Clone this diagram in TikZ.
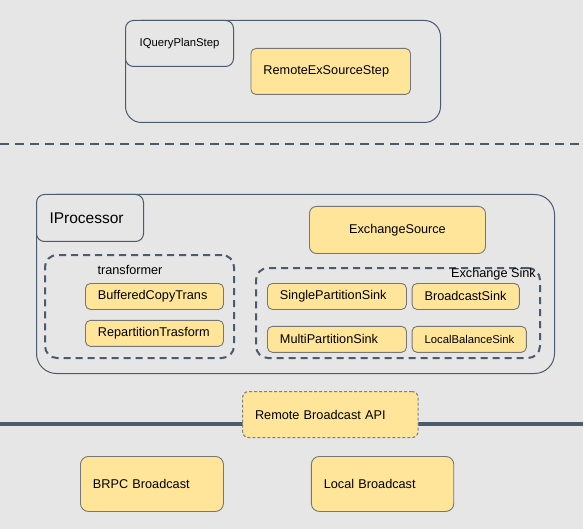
\documentclass[tikz,border=0pt]{standalone}
\usepackage{fontspec}
\setmainfont{Liberation Sans}
\usetikzlibrary{positioning}
\definecolor{bggray}{RGB}{230,230,230}
\definecolor{slateline}{RGB}{76,90,112}
\definecolor{boxyellow}{RGB}{255,229,153}
\definecolor{boxedge}{RGB}{118,118,118}
\newcommand{\mainsize}{\fontsize{12.7}{15}\selectfont}
\newcommand{\smallsize}{\fontsize{11.3}{13}\selectfont}
\newcommand{\largesize}{\fontsize{15.5}{18}\selectfont}

\begin{document}
\begin{tikzpicture}[
    x=1pt, y=-1pt,
    every node/.style={font=\mainsize, inner sep=0pt},
    yellowbox/.style={rectangle, draw=boxedge, fill=boxyellow, line width=0.9pt,
                      rounded corners=5pt, align=left, inner xsep=12.5pt},
    groupbox/.style={rectangle, draw=slateline, line width=1pt, rounded corners=16pt},
    cornerbox/.style={rectangle, draw=slateline, fill=bggray, line width=1pt, rounded corners=8pt},
    dashgroup/.style={rectangle, draw=slateline, line width=2pt, rounded corners=12pt,
                      dash pattern=on 7pt off 5pt},
    apibox/.style={yellowbox, draw=gray, line width=1.1pt, dash pattern=on 3pt off 2pt,
                   rounded corners=6pt}
]
    \fill[bggray] (0,0) rectangle (583,529);
    \useasboundingbox (0,0) rectangle (583,529);

    % Plan step side
    \node[groupbox, anchor=north west, minimum width=315pt, minimum height=102pt] (stepgroup) at (125,20) {};
    \node[cornerbox, anchor=north west, minimum width=108pt, minimum height=46pt, font=\smallsize] (qstep) at (125,20) {IQueryPlanStep};
    \node[yellowbox, anchor=north west, text width=134.5pt, minimum height=46pt] (rstep) at (250.5,48) {RemoteExSourceStep};

    % Separator
    \coordinate (sepL) at (0,144);
    \coordinate (sepR) at (583,144);
    \draw[slateline, line width=2.5pt, dash pattern=on 9pt off 6pt] (sepL) -- (sepR);

    % Processor side
    \node[groupbox, rounded corners=20pt, anchor=north west, minimum width=518pt, minimum height=179pt] (procgroup) at (36,194) {};
    \node[cornerbox, anchor=north west, text width=81pt, inner xsep=13pt, minimum height=47pt, align=left, font=\largesize] (iproc) at (36,194) {IProcessor};
    \node[yellowbox, rounded corners=7pt, anchor=north west, minimum width=176pt, minimum height=47pt, align=center, inner xsep=0pt] (exsrc) at (309,206) {ExchangeSource};

    \node[dashgroup, anchor=north west, minimum width=189pt, minimum height=103pt] (transgroup) at (44,254) {};
    \node (translabel) at (130,270) {transformer};
    \node[yellowbox, anchor=north west, text width=113pt, minimum height=26pt] (bcopy) at (85,283) {BufferedCopyTrans};
    \node[yellowbox, text width=113pt, minimum height=26pt, below=10pt of bcopy] (repart) {RepartitionTrasform};

    \node[dashgroup, anchor=north west, minimum width=284pt, minimum height=90pt] (sinkgroup) at (255,267) {};
    \node[anchor=east] (sinklabel) at (536,274.5) {Exchange Sink};
    \node[yellowbox, anchor=north west, text width=114pt, minimum height=26pt] (single) at (267,283) {SinglePartitionSink};
    \node[yellowbox, text width=82.3pt, minimum height=26pt, right=4.7pt of single] (bcast) {BroadcastSink};
    \node[yellowbox, text width=114pt, minimum height=26pt, below=16pt of single] (multi) {MultiPartitionSink};
    \node[yellowbox, text width=89.3pt, minimum height=26pt, right=4.7pt of multi, font=\smallsize] (localbal) {LocalBalanceSink};

    % Broadcast layer
    \coordinate (busL) at (0,424.3);
    \coordinate (busR) at (583,424.3);
    \draw[slateline, line width=4pt] (busL) -- (busR);
    \node[apibox, anchor=north west, text width=150.5pt, minimum height=46pt] (api) at (242,391) {Remote Broadcast API};
    \node[yellowbox, rounded corners=8pt, anchor=north west, text width=118pt, minimum height=55pt] (brpc) at (80,456) {BRPC Broadcast};
    \node[yellowbox, rounded corners=8pt, text width=117.4pt, minimum height=55pt, right=87pt of brpc] (local) {Local Broadcast};
\end{tikzpicture}
\end{document}
